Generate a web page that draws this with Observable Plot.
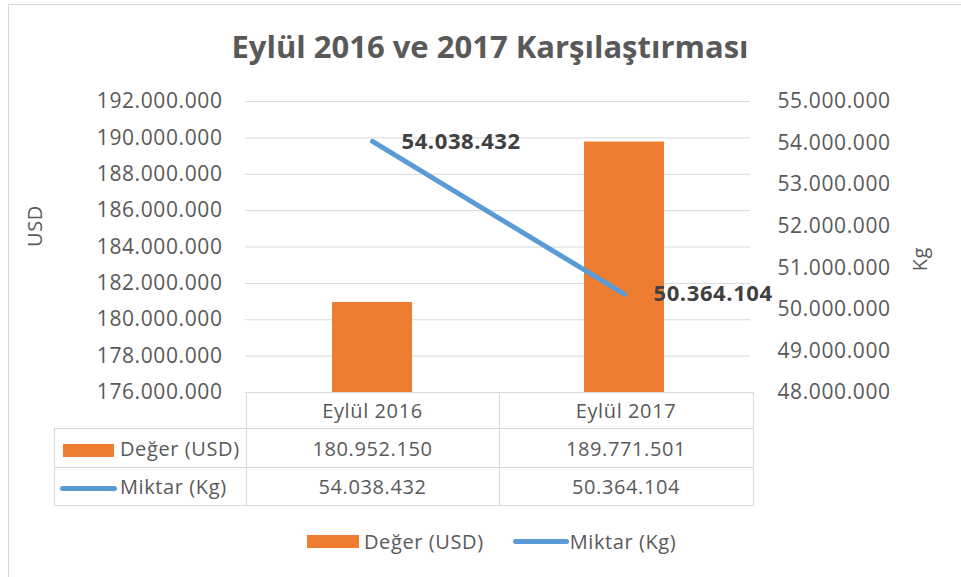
<!DOCTYPE html>
<html>
<head>
<meta charset="utf-8">
<script src="https://cdn.jsdelivr.net/npm/d3@7"></script>
<script src="https://cdn.jsdelivr.net/npm/@observablehq/plot@0.6"></script>
<style>
  body { margin: 0; background: #fff; }
  #chart { position: relative; width: 961px; height: 577px; font-family: "Open Sans", sans-serif; color: #595959; overflow: hidden; }
  #frame { position: absolute; left: 8px; top: 4px; width: 1000px; height: 620px; border: 1px solid #d9d9d9; box-sizing: border-box; }
  #title { position: absolute; left: 0; width: 980px; top: 25px; text-align: center; font-weight: bold; font-size: 31px; color: #595959; }
  #plot { position: absolute; left: 0; top: 0; }
  #dtable { position: absolute; left: 54px; top: 392px; border-collapse: collapse; font-size: 20px; letter-spacing: 0.6px; color: #595959; }
  #dtable td { border: 1px solid #d9d9d9; padding: 0; text-align: center; white-space: nowrap; }
  #dtable td.blank { border-left: none; border-top: none; }
  #dtable td.lab { text-align: left; }
  .key-bar { display: inline-block; vertical-align: middle; background: #ED7D31; }
  .key-line { display: inline-block; vertical-align: middle; background: #5B9BD5; border-radius: 3px; }
  #legend { position: absolute; top: 526px; left: 307px; font-size: 20px; letter-spacing: 0.6px; color: #595959; white-space: nowrap; }
  #legend span { vertical-align: middle; }
</style>
</head>
<body>
<div id="chart">
  <div id="frame"></div>
  <div id="title"></div>
  <div id="plot"></div>
  <table id="dtable"></table>
  <div id="legend"></div>
</div>
<script>
const chartTitle = "Eylül 2016 ve 2017 Karşılaştırması";
const categories = ["Eylül 2016", "Eylül 2017"];
const seriesNames = ["Değer (USD)", "Miktar (Kg)"];
const degerUSD = [180952150, 189771501];
const miktarKg = [54038432, 50364104];
const leftTicks = [176000000, 178000000, 180000000, 182000000, 184000000, 186000000, 188000000, 190000000, 192000000];
const rightTicks = [48000000, 49000000, 50000000, 51000000, 52000000, 53000000, 54000000, 55000000];
const leftLabel = "USD";
const rightLabel = "Kg";

const orange = "#ED7D31";
const blue = "#5B9BD5";

const trFormat = d3.formatLocale({decimal: ",", thousands: ".", grouping: [3], currency: ["", ""]}).format(",d");

const yDomain = [leftTicks[0], leftTicks[leftTicks.length - 1]];
const y2Domain = [rightTicks[0], rightTicks[rightTicks.length - 1]];
// map the secondary (Kg) axis onto the primary (USD) scale
const toLeft = d3.scaleLinear().domain(y2Domain).range(yDomain);

const data = categories.map((c, i) => ({cat: c, usd: degerUSD[i], kg: miktarKg[i], kgY: toLeft(miktarKg[i])}));

document.getElementById("title").textContent = chartTitle;

const plot = Plot.plot({
  width: 961,
  height: 577,
  marginTop: 101,
  marginBottom: 185,
  marginLeft: 245,
  marginRight: 211,
  style: {fontFamily: "Open Sans, sans-serif", fontSize: "21px", letterSpacing: "0.6px", color: "#595959", background: "transparent", overflow: "visible"},
  x: {domain: categories, paddingInner: 0.683, paddingOuter: 0.3415, axis: null},
  y: {domain: yDomain},
  marks: [
    Plot.gridY(leftTicks, {stroke: "#d9d9d9", strokeOpacity: 1}),
    Plot.barY(data, {x: "cat", y1: yDomain[0], y2: "usd", fill: orange}),
    Plot.line(data, {x: "cat", y: "kgY", stroke: blue, strokeWidth: 5, strokeLinecap: "round"}),
    Plot.text(data, {x: "cat", y: "kgY", text: d => trFormat(d.kg), textAnchor: "start", dx: 29, fontWeight: "bold", fill: "#404040", fontSize: 22}),
    Plot.axisY({anchor: "left", ticks: leftTicks, tickSize: 0, tickPadding: 23, tickFormat: trFormat, label: null, fontSize: 21}),
    Plot.axisY({anchor: "right", ticks: rightTicks.map(v => toLeft(v)), tickSize: 0, tickPadding: 27, tickFormat: v => trFormat(Math.round(toLeft.invert(v))), label: null, fontSize: 21}),
    Plot.text([leftLabel], {frameAnchor: "left", rotate: -90, dx: -210, fontSize: 20, fill: "#595959"}),
    Plot.text([rightLabel], {frameAnchor: "right", rotate: -90, dx: 170, fontSize: 20, fill: "#595959"})
  ]
});
document.getElementById("plot").appendChild(plot);

// data table below the plot
const tbl = document.getElementById("dtable");
const colW = [191, 252, 253];
const rowH = [36, 39, 38];
let html = `<tr style="height:${rowH[0]}px"><td class="blank" style="width:${colW[0]}px"></td>` +
  categories.map((c, i) => `<td style="width:${colW[i + 1]}px">${c}</td>`).join("") + `</tr>`;
html += `<tr style="height:${rowH[1]}px"><td class="lab"><span class="key-bar" style="width:51px;height:13px;margin-left:8px;margin-right:6px"></span>${seriesNames[0]}</td>` +
  degerUSD.map(v => `<td>${trFormat(v)}</td>`).join("") + `</tr>`;
html += `<tr style="height:${rowH[2]}px"><td class="lab"><span class="key-line" style="width:57px;height:5px;margin-left:5px;margin-right:3px"></span>${seriesNames[1]}</td>` +
  miktarKg.map(v => `<td>${trFormat(v)}</td>`).join("") + `</tr>`;
tbl.innerHTML = html;

// legend
document.getElementById("legend").innerHTML =
  `<span class="key-bar" style="width:52px;height:13px;margin-right:5px"></span><span>${seriesNames[0]}</span>` +
  `<span class="key-line" style="width:56px;height:5px;margin-left:29px;margin-right:1px"></span><span>${seriesNames[1]}</span>`;
</script>
</body>
</html>
